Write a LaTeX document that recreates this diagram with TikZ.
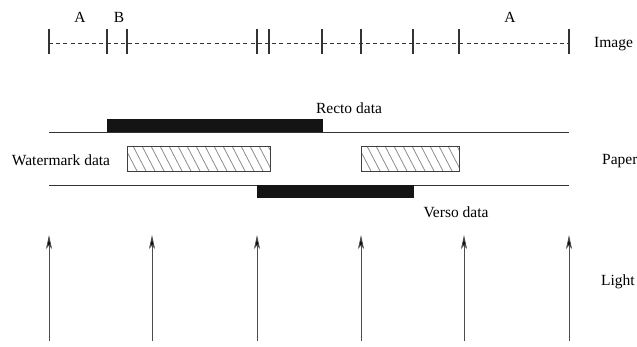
\documentclass[tikz,border=0pt]{standalone}
\usepackage{fontspec}
\setmainfont{Liberation Serif}
\usetikzlibrary{arrows.meta}
\begin{document}
\begin{tikzpicture}[x=1pt,y=-1pt,
  lbl/.style={font=\fontsize{15.5}{18}\selectfont, inner sep=0pt},
  tick/.style={draw=black!80, line width=1.1pt},
  sheet/.style={draw=black!80, line width=0.9pt},
  ink/.style={fill=black!92, draw=none},
  hatchbox/.style={draw=black!75, line width=0.9pt},
  hatch/.style={draw=black!45, line width=0.8pt},
  ray/.style={draw=black!70, line width=0.9pt, -{Stealth[length=14pt,width=6pt,inset=3.5pt,fill=black]}}]
\useasboundingbox (0,0) rectangle (637,346);

% image scale: dashed baseline with boundary ticks
\draw[black!80, line width=0.8pt, dash pattern=on 4pt off 3.2pt] (49,43) -- (569,43);
\foreach \t in {49,107,127,257,269,322,361,413,459,569}
  \draw[tick] (\t,29) -- (\t,54);
\node[lbl] (a1) at (80,17) {A};
\node[lbl] (b1) at (119,17) {B};
\node[lbl] (a2) at (510,17) {A};
\node[lbl, anchor=west] (image) at (594,44) {Image};

% paper surfaces
\draw[sheet] (49,132) -- (569,132);
\draw[sheet] (49,185) -- (569,185);

% printed data on both sides
\fill[ink] (107,119) rectangle (323,132);
\fill[ink] (257,185) rectangle (414,198);
\node[lbl] (recto) at (349,108) {Recto data};
\node[lbl] (verso) at (456,212) {Verso data};

% watermark regions inside the paper
\foreach \xa/\xb in {127/270, 361/459}{
  \begin{scope}
    \clip (\xa,146) rectangle (\xb,171);
    \foreach \k in {-30,-21,...,160}
      \draw[hatch] (\xa+\k,146) -- (\xa+\k+13,171);
  \end{scope}
  \draw[hatchbox] (\xa,146) rectangle (\xb,171);
}
\node[lbl] (wm) at (61,160) {Watermark data};
\node[lbl, anchor=west] (paper) at (602,161) {Paper};

% incident light
\foreach \r in {49,152,257,361,464,569}{
  \coordinate (s\r) at (\r,341);
  \coordinate (e\r) at (\r,235);
  \draw[ray] (s\r) -- (e\r);
}
\node[lbl, anchor=west] (light) at (601,282) {Light};
\end{tikzpicture}
\end{document}
